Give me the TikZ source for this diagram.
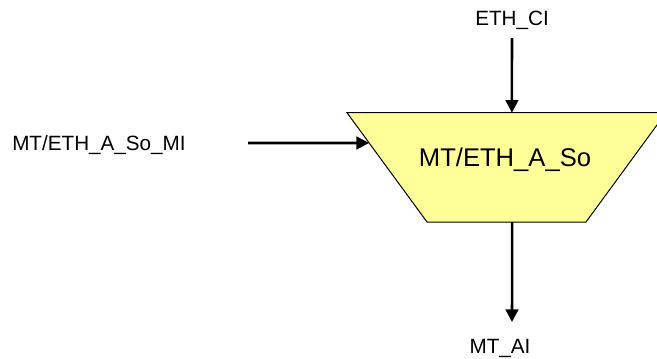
\documentclass[tikz,border=0pt]{standalone}
\usepackage{fontspec}
\setmainfont{Liberation Sans}
\usetikzlibrary{arrows.meta, calc}
\definecolor{blockyellow}{RGB}{255,255,153}

\begin{document}
\begin{tikzpicture}[x=0.75pt, y=-0.75pt,
  >={Triangle[length=9.5pt, width=9.5pt]},
  sig/.style={font=\fontsize{15.5}{18}\selectfont, inner sep=0pt},
  blocktext/.style={font=\fontsize{19.2}{22}\selectfont, inner sep=0pt},
  arrow/.style={->, line width=1.9pt}
]
\useasboundingbox (0,0) rectangle (657,358);

%% Adaptation source block
\coordinate (tl) at (347,112.7);
\coordinate (tr) at (666,112.7);
\coordinate (br) at (586,222);
\coordinate (bl) at (427,222);
\draw[fill=blockyellow, line width=0.75pt]
  (tl) -- (tr) -- (br) -- (bl) -- cycle;
\node[blocktext, anchor=base] (aso) at (505,166.5) {MT/ETH\_A\_So};

%% Signal labels
\node[sig, anchor=base west] (mi) at (12,150.5) {MT/ETH\_A\_So\_MI};
\node[sig, anchor=base] (ci) at (512,25) {ETH\_CI};
\node[sig, anchor=base] (ai) at (500,353) {MT\_AI};

%% Connector ends
\coordinate (mi end) at (248,143);
\coordinate (ci end) at (512,38);
\coordinate (ai end) at (512,322);
\coordinate (aso west) at ($(tl)!0.277!(bl)$);
\coordinate (aso north) at ($(tl)!0.517!(tr)$);
\coordinate (aso south) at ($(bl)!0.535!(br)$);

\draw[arrow] (mi end) -- (aso west);
\draw[arrow] (ci end) -- (aso north);
\draw[arrow] (aso south) -- (ai end);

\end{tikzpicture}
\end{document}
